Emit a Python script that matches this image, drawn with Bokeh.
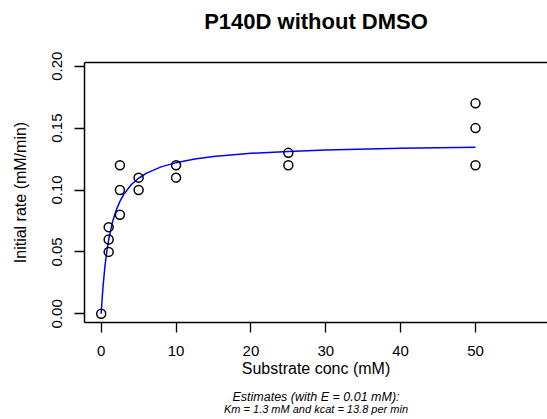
from bokeh.plotting import figure
from bokeh.models import Range1d, FixedTicker, PrintfTickFormatter, LinearAxis, ColumnDataSource
from bokeh.embed import file_html
from bokeh.resources import INLINE

# ---- data ----
substrate = [0, 1, 1, 1, 2.5, 2.5, 2.5, 5, 5, 10, 10, 25, 25, 50, 50, 50]
rate = [0.00, 0.07, 0.06, 0.05, 0.12, 0.10, 0.08, 0.11, 0.10, 0.12, 0.11, 0.13, 0.12, 0.17, 0.15, 0.12]

# fitted Michaelis-Menten curve
fit_s = [0, 0.1, 0.25, 0.5, 0.75, 1, 1.5, 2, 2.5, 3, 4, 5, 6, 8, 10, 12.5, 15, 20, 25, 30, 40, 50]
fit_v = [0.0, 0.0099, 0.0223, 0.0383, 0.0505, 0.0600, 0.0739, 0.0836, 0.0908, 0.0963, 0.1042,
         0.1095, 0.1134, 0.1187, 0.1221, 0.1250, 0.1270, 0.1296, 0.1312, 0.1323, 0.1337, 0.1345]

x_ticks = [0, 10, 20, 30, 40, 50]
y_ticks = [0.0, 0.05, 0.10, 0.15, 0.20]

title_text = "P140D without DMSO"
x_title = "Substrate conc (mM)"
y_title = "Initial rate (mM/min)"
sub_line1 = "Estimates (with E = 0.01 mM):"
sub_line2 = "Km = 1.3 mM and kcat = 13.8 per min"

FONT = "Liberation Sans"

p = figure(width=547, height=419, output_backend="svg", toolbar_location=None,
           x_range=Range1d(-2.23, 59.62), y_range=Range1d(-0.00703, 0.2030),
           min_border_left=84, min_border_right=0, min_border_top=62, min_border_bottom=97,
           x_axis_location="below", y_axis_location="left")
p.outline_line_color = None
p.background_fill_color = "white"
p.border_fill_color = "white"
p.xgrid.visible = False
p.ygrid.visible = False

src = ColumnDataSource(dict(x=substrate, y=rate))
fit = ColumnDataSource(dict(x=fit_s, y=fit_v))

p.line("x", "y", source=fit, line_color="#0000FF", line_width=1.5)
p.scatter("x", "y", source=src, marker="circle", size=9, fill_color=None,
          line_color="black", line_width=1.5)

xa = p.xaxis[0]
xa.ticker = FixedTicker(ticks=x_ticks)
xa.minor_tick_line_color = None
xa.major_tick_in = 0
xa.major_tick_out = 10
xa.major_tick_line_width = 1.3
xa.axis_line_width = 1.5
xa.major_label_text_font = FONT
xa.major_label_text_font_size = "15px"
xa.major_label_text_color = "black"
xa.major_label_standoff = 13
xa.axis_label = x_title
xa.axis_label_text_font = FONT
xa.axis_label_text_font_size = "16px"
xa.axis_label_text_font_style = "normal"
xa.axis_label_text_color = "black"
xa.axis_label_standoff = 1

ya = p.yaxis[0]
ya.ticker = FixedTicker(ticks=y_ticks)
ya.formatter = PrintfTickFormatter(format="%.2f")
ya.minor_tick_line_color = None
ya.major_tick_in = 0
ya.major_tick_out = 10
ya.major_tick_line_width = 1.3
ya.axis_line_width = 1.5
ya.major_label_orientation = "vertical"
ya.major_label_text_font = FONT
ya.major_label_text_font_size = "15px"
ya.major_label_text_color = "black"
ya.major_label_standoff = 12
ya.axis_label = y_title
ya.axis_label_text_font = FONT
ya.axis_label_text_font_size = "16px"
ya.axis_label_text_font_style = "normal"
ya.axis_label_text_color = "black"
ya.axis_label_standoff = 21


def text_axis(label, size, style, standoff, line=False):
    """An axis without ticks, used as a box edge and/or to carry a text line."""
    ax = LinearAxis(ticker=FixedTicker(ticks=[]),
                    major_tick_out=0, major_tick_in=0, minor_tick_out=0, minor_tick_in=0,
                    major_label_text_font_size="0px", major_label_standoff=0)
    if line:
        ax.axis_line_width = 1.5
        ax.axis_line_color = "black"
    else:
        ax.axis_line_color = None
    ax.axis_label = label
    ax.axis_label_text_font = FONT
    ax.axis_label_text_font_size = size
    ax.axis_label_text_font_style = style
    ax.axis_label_text_color = "black"
    ax.axis_label_standoff = standoff
    return ax


# top edge of the box, carrying the main title
p.add_layout(text_axis(title_text, "22px", "bold", 29, line=True), "above")

# two lines of estimates under the x-axis title
p.add_layout(text_axis(sub_line1, "12.5px", "italic", 10), "below")
p.add_layout(text_axis(sub_line2, "11px", "italic", -4), "below")

open("out.html", "w").write(file_html(p, INLINE))
